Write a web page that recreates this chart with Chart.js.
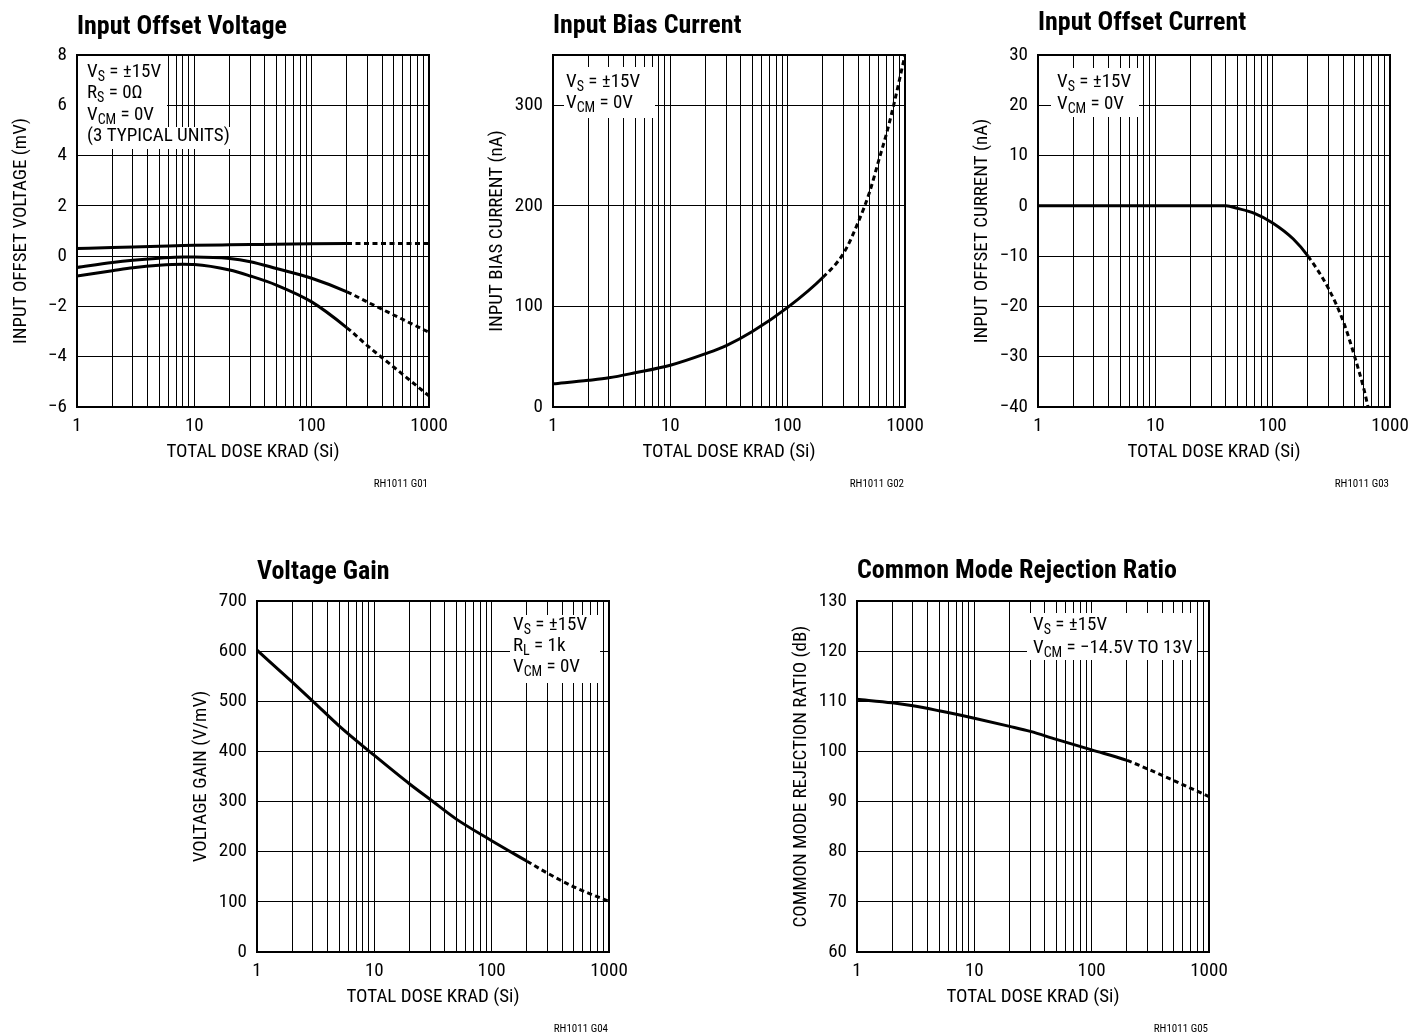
<!DOCTYPE html>
<html>
<head>
	<meta charset="utf-8">
	<title>RH1011 - Total Dose Characteristics</title>
	<script src="https://cdn.jsdelivr.net/npm/chart.js@4.4.1/dist/chart.umd.min.js"></script>
	<style>
		body { margin: 0; background: #fff; width: 1410px; height: 1034px; overflow: hidden; position: relative; }
		canvas { position: absolute; }
	</style>
</head>
<body>
	<canvas id="g01"></canvas>
	<canvas id="g02"></canvas>
	<canvas id="g03"></canvas>
	<canvas id="g04"></canvas>
	<canvas id="g05"></canvas>
	<script>
		// os X (wspolna) - dawka w KRAD (Si)
		const doseTicks = [1, 2, 3, 4, 5, 6, 7, 8, 9, 10, 20, 30, 40, 50, 60, 70, 80, 90, 100, 200, 300, 400, 500, 600, 700, 800, 900, 1000];
		const doseLabels = [1, 10, 100, 1000];
		const dashFrom = 200;

		// G01 input offset voltage (mV), 3 typical units
		const vosDose = [1, 2, 3, 5, 8, 10, 20, 30, 50, 100, 200, 300, 500, 1000];
		const vosUnit1 = [0.30, 0.34, 0.36, 0.39, 0.42, 0.43, 0.45, 0.46, 0.47, 0.49, 0.50, 0.50, 0.50, 0.50];
		const vosUnit2 = [-0.45, -0.25, -0.16, -0.08, -0.03, -0.03, -0.09, -0.22, -0.49, -0.88, -1.42, -1.83, -2.34, -3.03];
		const vosUnit3 = [-0.79, -0.58, -0.46, -0.36, -0.32, -0.33, -0.55, -0.79, -1.15, -1.82, -2.85, -3.57, -4.41, -5.56];
		const vosTicks = [-6, -4, -2, 0, 2, 4, 6, 8];

		// G02 input bias current (nA)
		const ibDose = [1, 2, 3, 5, 10, 20, 30, 50, 100, 200, 300, 400, 500, 600, 700, 800, 1000];
		const ibValues = [23, 26.5, 29, 34, 41.5, 53, 61, 75, 99, 129, 153, 184, 214, 246, 273, 300, 350];
		const ibTicks = [0, 100, 200, 300];

		// G03 input offset current (nA)
		const iosDose = [1, 10, 30, 40, 50, 70, 100, 150, 200, 300, 400, 500, 600, 650];
		const iosValues = [0, 0, 0, 0, -0.5, -1.5, -3.4, -6.6, -10, -16.5, -23, -30, -36.5, -40];
		const iosTicks = [-40, -30, -20, -10, 0, 10, 20, 30];

		// G04 voltage gain (V/mV)
		const avDose = [1, 2, 3, 5, 10, 20, 30, 50, 100, 200, 300, 500, 1000];
		const avValues = [602, 538, 500, 451, 392, 335, 304, 265, 222, 181, 157, 130, 101];
		const avTicks = [0, 100, 200, 300, 400, 500, 600, 700];

		// G05 CMRR (dB)
		const cmDose = [1, 2, 3, 5, 10, 20, 30, 50, 100, 200, 300, 500, 1000];
		const cmValues = [110.4, 109.7, 109.1, 108.1, 106.6, 105.0, 104.0, 102.4, 100.3, 98.2, 96.5, 94.2, 91.0];
		const cmTicks = [60, 70, 80, 90, 100, 110, 120, 130];

		const FONT = "'Roboto Condensed', 'DejaVu Sans Condensed', sans-serif";
		Chart.defaults.font.family = FONT;
		Chart.defaults.color = '#000';

		function points (xs, ys) {
			return xs.map(function(x, i) { return {x: x, y: ys[i]}; });
		}

		function minus (v) {
			return v < 0 ? '\u2212' + Math.abs(v) : String(v);
		}

		// ramka, ramki z opisem warunkow i kod rysunku
		const notesPlugin = {
			id: 'notes',
			beforeDatasetsDraw(chart, args, opts) {
				const ctx = chart.ctx, a = chart.chartArea;
				ctx.save();
				ctx.fillStyle = '#fff';
				opts.boxes.forEach(function(b) {
					ctx.fillRect(a.left + b[0], a.top + b[1], b[2] - b[0], b[3] - b[1]);
				});
				ctx.fillStyle = '#000';
				ctx.textBaseline = 'alphabetic';
				opts.lines.forEach(function(line, i) {
					let x = a.left + opts.x;
					const y = a.top + opts.y + i * opts.step;
					line.split(/(_\{[^}]*\})/).forEach(function(part) {
						if (!part) return;
						const sub = part.startsWith('_{');
						const t = sub ? part.slice(2, -1) : part;
						ctx.font = (sub ? 14 : 19) + 'px ' + FONT;
						ctx.fillText(t, x, sub ? y + 4 : y);
						x += ctx.measureText(t).width;
					});
				});
				ctx.restore();
			},
			afterDatasetsDraw(chart, args, opts) {
				const ctx = chart.ctx, a = chart.chartArea;
				ctx.save();
				ctx.strokeStyle = '#000';
				ctx.lineWidth = 2;
				ctx.strokeRect(a.left, a.top, a.right - a.left, a.bottom - a.top);
				ctx.font = '11px ' + FONT;
				ctx.textAlign = 'right';
				ctx.textBaseline = 'middle';
				ctx.fillText(opts.code, a.right - 1, a.bottom + 77);
				ctx.restore();
			}
		};

		function makeChart (id, place, title, yTitle, yMin, yMax, yTicks, curves, notes) {
			const canvas = document.getElementById(id);
			const top = place.top - place.gap - 20;
			const width = 70 + 352 + 30;
			const height = (place.top - top) + place.h + 60 + 26;
			canvas.width = width;
			canvas.height = height;
			canvas.style.left = (place.left - 70) + 'px';
			canvas.style.top = top + 'px';

			return new Chart(canvas.getContext('2d'), {
				type: 'line',
				data: {
					datasets: curves.map(function(c) {
						return {
							data: c,
							borderColor: '#000',
							borderWidth: 3,
							borderCapStyle: 'butt',
							pointRadius: 0,
							cubicInterpolationMode: 'monotone',
							segment: {
								borderDash: function(ctx) { return ctx.p0.parsed.x >= dashFrom ? [5, 3.5] : undefined; }
							}
						};
					})
				},
				options: {
					responsive: false,
					animation: false,
					layout: { padding: { left: 0, right: 30, top: 0, bottom: 26 } },
					plugins: {
						legend: { display: false },
						tooltip: { enabled: false },
						title: {
							display: true,
							text: title,
							align: 'start',
							fullSize: false,
							color: '#000',
							font: { size: 26, weight: 'bold' },
							padding: { top: 7.4, bottom: place.gap - 18.6 }
						},
						notes: notes
					},
					scales: {
						x: {
							type: 'logarithmic',
							min: 1,
							max: 1000,
							afterBuildTicks: function(scale) { scale.ticks = doseTicks.map(function(v) { return {value: v}; }); },
							afterFit: function(scale) { scale.height = 60; },
							border: { display: false },
							grid: { color: '#000', lineWidth: 1, drawTicks: false },
							ticks: {
								autoSkip: false,
								maxRotation: 0,
								padding: 8,
								font: { size: 19 },
								callback: function(v) { return doseLabels.includes(v) ? String(v) : ''; }
							},
							title: { display: true, text: 'TOTAL DOSE KRAD (Si)', font: { size: 19 }, padding: { top: 0, bottom: 3 } }
						},
						y: {
							type: 'linear',
							min: yMin,
							max: yMax,
							afterBuildTicks: function(scale) { scale.ticks = yTicks.map(function(v) { return {value: v}; }); },
							afterFit: function(scale) { scale.width = 70; },
							border: { display: false },
							grid: { color: '#000', lineWidth: 1, drawTicks: false },
							ticks: { padding: 10, font: { size: 19 }, callback: minus },
							title: { display: true, text: yTitle, font: { size: 19 }, padding: { top: 3, bottom: 0 } }
						}
					}
				},
				plugins: [notesPlugin]
			});
		}

		makeChart('g01', {left: 77, top: 55, h: 352, gap: 31}, 'Input Offset Voltage', 'INPUT OFFSET VOLTAGE (mV)', -6, 8, vosTicks,
			[points(vosDose, vosUnit1), points(vosDose, vosUnit2), points(vosDose, vosUnit3)],
			{ boxes: [[0, 0, 90, 72], [0, 72, 156, 94]], x: 10, y: 22, step: 21.3,
			  lines: ['V_{S} = \u00b115V', 'R_{S} = 0\u03a9', 'V_{CM} = 0V', '(3 TYPICAL UNITS)'], code: 'RH1011 G01' });

		makeChart('g02', {left: 553, top: 55, h: 352, gap: 32}, 'Input Bias Current', 'INPUT BIAS CURRENT (nA)', 0, 350, ibTicks,
			[points(ibDose, ibValues)],
			{ boxes: [[11, 12, 102, 63]], x: 13, y: 32, step: 20.5,
			  lines: ['V_{S} = \u00b115V', 'V_{CM} = 0V'], code: 'RH1011 G02' });

		makeChart('g03', {left: 1038, top: 55, h: 352, gap: 35}, 'Input Offset Current', 'INPUT OFFSET CURRENT (nA)', -40, 30, iosTicks,
			[points(iosDose, iosValues)],
			{ boxes: [[13, 13, 101, 62]], x: 19, y: 32, step: 21.5,
			  lines: ['V_{S} = \u00b115V', 'V_{CM} = 0V'], code: 'RH1011 G03' });

		makeChart('g04', {left: 257, top: 601, h: 351, gap: 32}, 'Voltage Gain', 'VOLTAGE GAIN (V/mV)', 0, 700, avTicks,
			[points(avDose, avValues)],
			{ boxes: [[253, 14, 343, 82]], x: 256, y: 29, step: 20.8,
			  lines: ['V_{S} = \u00b115V', 'R_{L} = 1k', 'V_{CM} = 0V'], code: 'RH1011 G04' });

		makeChart('g05', {left: 857, top: 601, h: 351, gap: 33}, 'Common Mode Rejection Ratio', 'COMMON MODE REJECTION RATIO (dB)', 60, 130, cmTicks,
			[points(cmDose, cmValues)],
			{ boxes: [[170, 12, 340, 59]], x: 176, y: 29, step: 22.5,
			  lines: ['V_{S} = \u00b115V', 'V_{CM} = \u221214.5V TO 13V'], code: 'RH1011 G05' });
	</script>
</body>
</html>
